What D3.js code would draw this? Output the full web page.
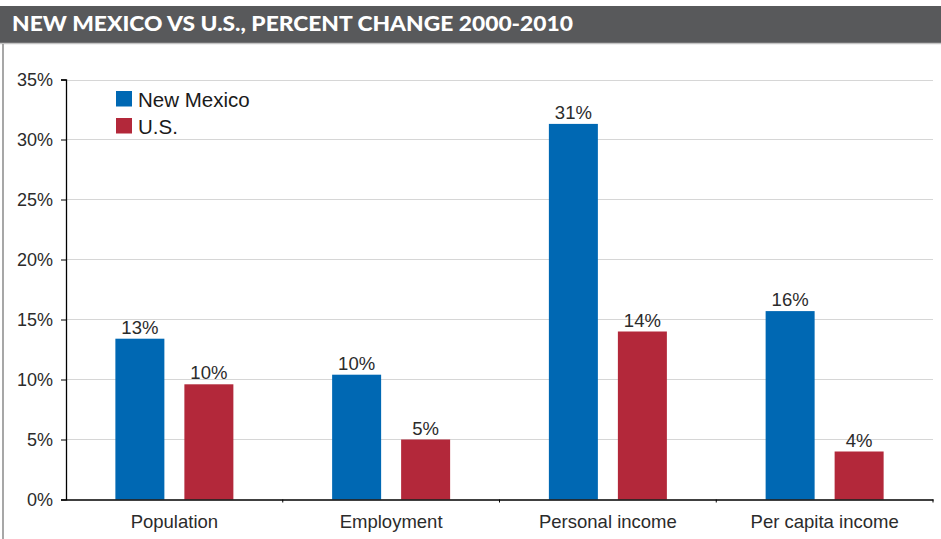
<!DOCTYPE html>
<html>
<head>
<meta charset="utf-8">
<script src="https://cdn.jsdelivr.net/npm/d3@7/dist/d3.min.js"></script>
<style>
  html, body { margin: 0; padding: 0; background: #fff; }
  svg { display: block; }
</style>
</head>
<body>
<svg id="chart" width="941" height="539"></svg>
<script>
// Percent change 2000-2010, New Mexico vs U.S.
const categories = ["Population", "Employment", "Personal income", "Per capita income"];
const seriesNames = ["New Mexico", "U.S."];
const newMexico = [0.134, 0.104, 0.313, 0.157];
const us = [0.096, 0.050, 0.140, 0.040];
const yTicks = [0, 0.05, 0.10, 0.15, 0.20, 0.25, 0.30, 0.35];
const titleText = "NEW MEXICO VS U.S., PERCENT CHANGE 2000-2010";

const colors = { "New Mexico": "#0068b3", "U.S.": "#b3283a" };
const seriesValues = { "New Mexico": newMexico, "U.S.": us };

const svg = d3.select("#chart");
const W = 941, H = 539;
const plot = { left: 66, right: 933, top: 79.5, bottom: 499.5 };
const textFont = "'Liberation Sans', Arial, sans-serif";

// header bar
svg.append("rect").attr("x", 0).attr("y", 6).attr("width", W).attr("height", 37).attr("fill", "#58595b");
svg.append("line").attr("x1", 0).attr("x2", W).attr("y1", 43.5).attr("y2", 43.5)
  .attr("stroke", "#c4c4c4").attr("stroke-width", 1.5);
svg.append("text")
  .attr("x", 12).attr("y", 31)
  .attr("fill", "#fff")
  .attr("font-family", "Lato, 'Open Sans', sans-serif")
  .attr("font-weight", 900)
  .attr("font-size", 20)
  .attr("textLength", 561)
  .attr("lengthAdjust", "spacingAndGlyphs")
  .text(titleText);

// frame edge on the left
svg.append("line").attr("x1", 3).attr("x2", 3).attr("y1", 44).attr("y2", H)
  .attr("stroke", "#8a8a8a").attr("stroke-width", 1.5);

// scales
const y = d3.scaleLinear().domain([0, 0.35]).range([plot.bottom, plot.top]);
const x0 = d3.scaleBand().domain(categories).range([plot.left, plot.right]).paddingInner(0).paddingOuter(0);
const groupW = 118;
const x1 = d3.scaleBand().domain(seriesNames)
  .range([(x0.bandwidth() - groupW) / 2, (x0.bandwidth() + groupW) / 2])
  .paddingInner(20 / 69).paddingOuter(0);

// gridlines
svg.append("g")
  .selectAll("line")
  .data(yTicks.filter(t => t > 0))
  .join("line")
  .attr("x1", plot.left).attr("x2", plot.right)
  .attr("y1", d => Math.round(y(d)) + 0.5).attr("y2", d => Math.round(y(d)) + 0.5)
  .attr("stroke", "#d6d6d6").attr("stroke-width", 1);

// y axis
const yAxis = svg.append("g")
  .attr("transform", `translate(${plot.left},0)`)
  .call(d3.axisLeft(y).tickValues(yTicks).tickFormat(d3.format(".0%")).tickSize(5).tickPadding(8));
yAxis.select(".domain").attr("stroke", "#000").attr("stroke-width", 1.3);
yAxis.selectAll(".tick line").attr("stroke", "#000");
yAxis.selectAll("text").attr("font-family", textFont).attr("font-size", 18).attr("fill", "#2b2b2b");

// bars
const groups = svg.append("g").selectAll("g")
  .data(categories)
  .join("g")
  .attr("transform", d => `translate(${x0(d)},0)`);

groups.selectAll("rect")
  .data((c, i) => seriesNames.map(s => ({ s, v: seriesValues[s][i] })))
  .join("rect")
  .attr("x", d => x1(d.s))
  .attr("width", x1.bandwidth())
  .attr("y", d => y(d.v))
  .attr("height", d => y(0) - y(d.v))
  .attr("fill", d => colors[d.s]);

groups.selectAll("text.val")
  .data((c, i) => seriesNames.map(s => ({ s, v: seriesValues[s][i] })))
  .join("text")
  .attr("class", "val")
  .attr("x", d => x1(d.s) + x1.bandwidth() / 2)
  .attr("y", d => y(d.v) - 5)
  .attr("text-anchor", "middle")
  .attr("font-family", textFont)
  .attr("font-size", 18.5)
  .attr("fill", "#2b2b2b")
  .text(d => d3.format(".0%")(d.v));

// x axis
const xAxis = svg.append("g")
  .attr("transform", `translate(0,${plot.bottom})`)
  .call(d3.axisBottom(x0).tickSize(0).tickPadding(15));
xAxis.select(".domain").attr("stroke", "#000").attr("stroke-width", 1.3);
xAxis.selectAll("text").attr("font-family", textFont).attr("font-size", 18.5).attr("fill", "#2b2b2b");

// category boundary ticks
const bounds = categories.map(c => x0(c) + x0.bandwidth());
svg.append("g").selectAll("line")
  .data(bounds)
  .join("line")
  .attr("x1", d => d).attr("x2", d => d)
  .attr("y1", plot.bottom).attr("y2", plot.bottom + 3)
  .attr("stroke", "#000").attr("stroke-width", 1);

// legend
const legend = svg.append("g");
seriesNames.forEach((s, i) => {
  legend.append("rect")
    .attr("x", 116).attr("y", 91 + i * 27)
    .attr("width", 16).attr("height", 15.5)
    .attr("fill", colors[s]);
  legend.append("text")
    .attr("x", 138).attr("y", 106.5 + i * 27)
    .attr("font-family", textFont)
    .attr("font-size", 20.5)
    .attr("fill", "#1a1a1a")
    .text(s);
});
</script>
</body>
</html>
